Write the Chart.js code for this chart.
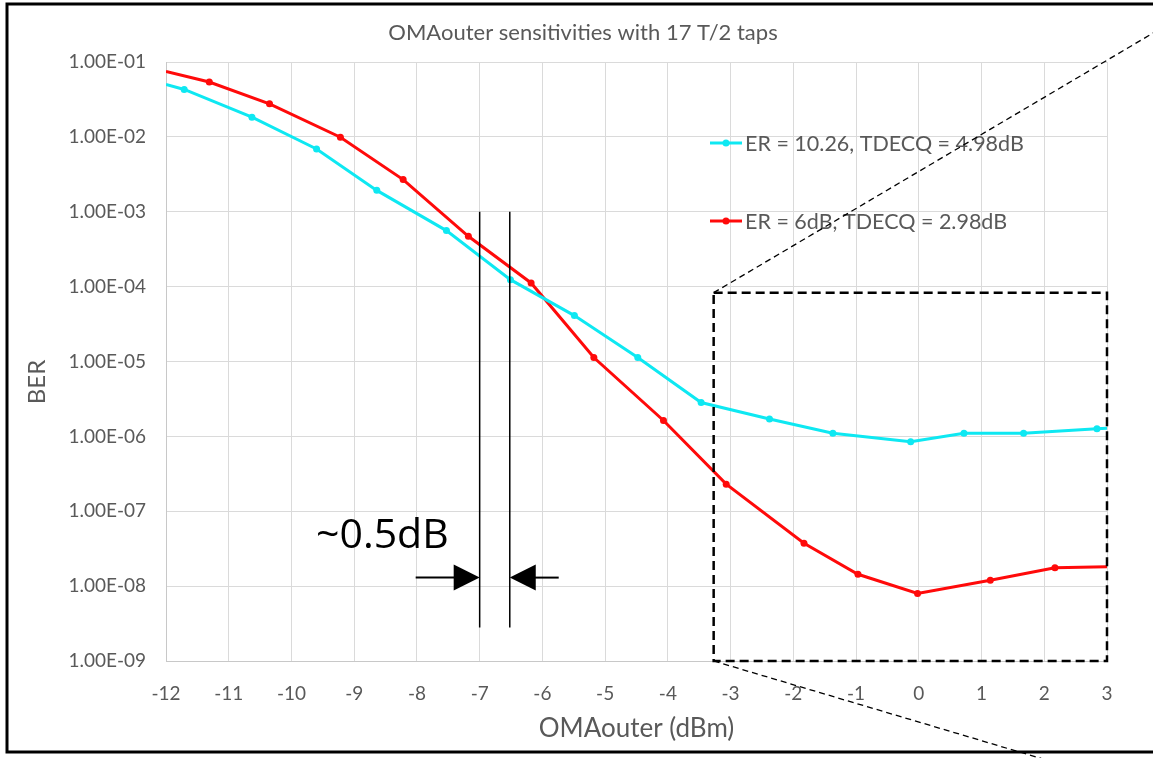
<!DOCTYPE html>
<html>
<head>
<meta charset="utf-8">
<script src="https://cdn.jsdelivr.net/npm/chart.js@4.4.1/dist/chart.umd.min.js"></script>
<style>
  html, body { margin: 0; padding: 0; background: #ffffff; }
  #wrap { width: 1153px; height: 758px; position: relative; }
</style>
</head>
<body>
<div id="wrap"><canvas id="c" width="1153" height="758"></canvas></div>
<script>
// ---------- data ----------
const chartTitle = 'OMAouter sensitivities with 17 T/2 taps';
const xTitle = 'OMAouter (dBm)';
const yTitle = 'BER';
const xMin = -12, xMax = 3;
const yMin = 1e-9, yMax = 1e-1;
const yTickValues = [1e-1, 1e-2, 1e-3, 1e-4, 1e-5, 1e-6, 1e-7, 1e-8, 1e-9];

const cyanLabel = 'ER = 10.26, TDECQ = 4.98dB';
const cyanX = [-12.0, -11.71, -10.63, -9.6, -8.64, -7.53, -6.51, -5.49, -4.48, -3.47, -2.38, -1.37, -0.13, 0.72, 1.67, 2.84, 3.0];
const cyanY = [5.0e-2, 4.3e-2, 1.83e-2, 6.9e-3, 1.93e-3, 5.6e-4, 1.24e-4, 4.1e-5, 1.13e-5, 2.83e-6, 1.71e-6, 1.10e-6, 8.5e-7, 1.10e-6, 1.10e-6, 1.26e-6, 1.28e-6];

const redLabel = 'ER = 6dB, TDECQ = 2.98dB';
const redX = [-12.0, -11.31, -10.35, -9.22, -8.22, -7.18, -6.18, -5.18, -4.07, -3.07, -1.83, -0.97, -0.02, 1.14, 2.17, 3.0];
const redY = [7.5e-2, 5.4e-2, 2.76e-2, 9.9e-3, 2.69e-3, 4.7e-4, 1.12e-4, 1.13e-5, 1.63e-6, 2.3e-7, 3.73e-8, 1.44e-8, 8.0e-9, 1.2e-8, 1.76e-8, 1.82e-8];

// annotation values (data coordinates)
const annoText = '~0.5dB';
const markerLinesX = [-7.0, -6.52];
const markerLinesY = [1e-3, 2.8e-9];
const arrowY = 1.3e-8;
const arrowLeftFrom = -8.02, arrowRightFrom = -5.74;
const zoomBoxX = [-3.27, 3.0];
const zoomBoxY = [8.3e-5, 1e-9];
const zoomLineTopEnd = [3.75, 2.48e-1];
const zoomLineBottomEnd = [1.95, 5.0e-11];

// ---------- helpers ----------
const toPts = (xs, ys) => xs.map((x, i) => ({ x: x, y: ys[i] }));
const fmtExp = v => {
  const s = v.toExponential(2).toUpperCase();
  return s.replace(/E([+-])(\d)$/, 'E$10$2');
};
const edgeRadius = r => ctx => (ctx.raw && (ctx.raw.x <= xMin || ctx.raw.x >= xMax)) ? 0 : r;

const CYAN = '#0EE8F2';
const RED = '#FF0A0A';
const TEXT = '#595959';
const FONT = 'Lato, "Open Sans", sans-serif';

Chart.defaults.font.family = FONT;
Chart.defaults.color = TEXT;

const overlay = {
  id: 'overlay',
  afterDraw(chart) {
    const c = chart.ctx, xs = chart.scales.x, ys = chart.scales.y;
    const px = v => xs.getPixelForValue(v), py = v => ys.getPixelForValue(v);
    const ca = chart.chartArea;
    c.save();

    // title
    c.fillStyle = TEXT;
    c.font = '22px ' + FONT;
    c.textAlign = 'center'; c.textBaseline = 'middle';
    c.fillText(chartTitle, 583, 33);

    // y title
    c.save();
    c.translate(37, 382);
    c.rotate(-Math.PI / 2);
    c.font = '24px ' + FONT;
    c.fillText(yTitle, 0, 0);
    c.restore();

    // legend
    const legend = [[cyanLabel, CYAN, 143], [redLabel, RED, 221]];
    legend.forEach(([t, col, y]) => {
      c.strokeStyle = col; c.lineWidth = 3;
      c.beginPath(); c.moveTo(710, y); c.lineTo(742, y); c.stroke();
      c.fillStyle = col;
      c.beginPath(); c.arc(726, y, 3.5, 0, Math.PI * 2); c.fill();
      c.fillStyle = TEXT; c.font = '21.5px ' + FONT;
      c.textAlign = 'left'; c.textBaseline = 'middle';
      c.fillText(t, 745, y + 1);
    });

    // vertical marker lines
    c.strokeStyle = '#000'; c.lineWidth = 1.5; c.setLineDash([]);
    markerLinesX.forEach(x => {
      c.beginPath(); c.moveTo(px(x), py(markerLinesY[0])); c.lineTo(px(x), py(markerLinesY[1])); c.stroke();
    });
    // arrows
    const ay = py(arrowY);
    const drawArrow = (fromX, toX) => {
      const x0 = px(fromX), x1 = px(toX);
      const dir = Math.sign(x1 - x0);
      c.lineWidth = 2;
      c.beginPath(); c.moveTo(x0, ay); c.lineTo(x1 - dir * 20, ay); c.stroke();
      c.fillStyle = '#000';
      c.beginPath(); c.moveTo(x1, ay); c.lineTo(x1 - dir * 26, ay - 13); c.lineTo(x1 - dir * 26, ay + 13); c.closePath(); c.fill();
    };
    drawArrow(arrowLeftFrom, markerLinesX[0]);
    drawArrow(arrowRightFrom, markerLinesX[1]);

    // ~0.5dB text
    c.fillStyle = '#000'; c.font = '41px "Open Sans", sans-serif';
    c.textAlign = 'left'; c.textBaseline = 'alphabetic';
    c.fillText(annoText, 316, 548);

    // zoom box
    c.strokeStyle = '#000'; c.lineWidth = 2.5; c.setLineDash([9, 5]);
    const bx0 = px(zoomBoxX[0]), bx1 = px(zoomBoxX[1]), by0 = py(zoomBoxY[0]), by1 = py(zoomBoxY[1]);
    c.strokeRect(bx0, by0, bx1 - bx0, by1 - by0);
    // zoom lines
    c.lineWidth = 1.3; c.setLineDash([6, 4]);
    c.beginPath(); c.moveTo(bx0, by0); c.lineTo(px(zoomLineTopEnd[0]), py(zoomLineTopEnd[1])); c.stroke();
    c.beginPath(); c.moveTo(bx0, by1); c.lineTo(px(zoomLineBottomEnd[0]), py(zoomLineBottomEnd[1])); c.stroke();

    // outer frame
    c.setLineDash([]);
    c.strokeStyle = '#000'; c.lineWidth = 3;
    c.strokeRect(7, 4, 1170, 748);
    c.restore();
  }
};

new Chart(document.getElementById('c'), {
  type: 'line',
  data: {
    datasets: [
      {
        label: cyanLabel, data: toPts(cyanX, cyanY),
        borderColor: CYAN, backgroundColor: CYAN, borderWidth: 3,
        pointRadius: edgeRadius(3.5), pointBorderWidth: 0, tension: 0
      },
      {
        label: redLabel, data: toPts(redX, redY),
        borderColor: RED, backgroundColor: RED, borderWidth: 3,
        pointRadius: edgeRadius(3.5), pointBorderWidth: 0, tension: 0
      }
    ]
  },
  options: {
    responsive: false, animation: false,
    layout: { padding: { top: 62, right: 46, left: 0, bottom: 0 } },
    plugins: { legend: { display: false }, title: { display: false }, tooltip: { enabled: false } },
    scales: {
      x: {
        type: 'linear', min: xMin, max: xMax,
        ticks: { stepSize: 1, padding: 21, font: { size: 19 }, color: TEXT },
        grid: { color: '#DADADA', drawTicks: false },
        border: { color: '#C8C8C8' },
        title: { display: true, text: xTitle, font: { size: 26 }, color: TEXT, padding: { top: 4, bottom: 14 } },
        afterFit: s => { s.height = 97; }
      },
      y: {
        type: 'logarithmic', min: yMin, max: yMax,
        afterBuildTicks: s => { s.ticks = yTickValues.map(v => ({ value: v })); },
        ticks: { padding: 20, font: { size: 19 }, color: TEXT, callback: v => fmtExp(v) },
        grid: { color: '#DADADA', drawTicks: false },
        border: { color: '#C8C8C8' },
        afterFit: s => { s.width = 166; }
      }
    }
  },
  plugins: [overlay]
});
</script>
</body>
</html>
